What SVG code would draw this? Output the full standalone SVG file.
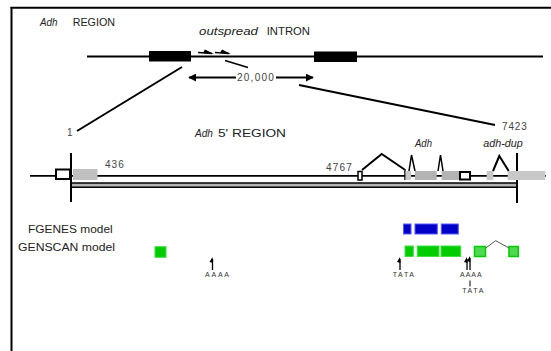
<svg xmlns="http://www.w3.org/2000/svg" width="551" height="351" viewBox="0 0 551 351">
<style>
text{font-family:"Liberation Sans",Arial,sans-serif;fill:#222}
.lbl{font-size:11px}
.num{font-size:10px;fill:#444;letter-spacing:1.2px}
.it{font-style:italic}
.ln{stroke:#000;fill:none;stroke-width:2}
.thin{stroke:#000;fill:none;stroke-width:1.5}
.gray{fill:#b4b4b4}
.lgray{fill:#c8c8c8}
.wbox{fill:#fff;stroke:#000;stroke-width:2}
.blue{fill:#0000c8;stroke:#5a5aff;stroke-width:1}
.green{fill:#00cc00;stroke:#40e040;stroke-width:1}
.lgreen{fill:#50d850;stroke:#00cc00;stroke-width:1.5}
.tiny{font-size:7px;fill:#333}
</style>
<defs>
<marker id="ah" viewBox="0 0 10 10" refX="9" refY="5" markerWidth="8" markerHeight="8" markerUnits="userSpaceOnUse" orient="auto-start-reverse">
<path d="M0,0 L10,5 L0,10 z" fill="#000"/>
</marker>
</defs>
<rect width="551" height="351" fill="#fff"/>
<g id="frame">
<line x1="11.5" y1="7" x2="11.5" y2="351" stroke="#000" stroke-width="2"/>
<line x1="10.5" y1="7.8" x2="551" y2="7.8" stroke="#000" stroke-width="2"/>
</g>
<g id="top-region">
<text x="40" y="25.5" class="lbl it" textLength="17.5" lengthAdjust="spacingAndGlyphs">Adh</text>
<text x="72.7" y="25.5" class="lbl" textLength="42.3" lengthAdjust="spacingAndGlyphs">REGION</text>
<line x1="87" y1="56.5" x2="543" y2="56.5" class="ln"/>
<rect x="149" y="51" width="42" height="10.5" fill="#000"/>
<rect x="314" y="51.5" width="43" height="10.5" fill="#000"/>
<text x="199" y="35" class="lbl it" textLength="59" lengthAdjust="spacingAndGlyphs">outspread</text>
<text x="266.7" y="35" class="lbl" textLength="43.3" lengthAdjust="spacingAndGlyphs">INTRON</text>
<path d="M198,52.5 L212,53.5" class="thin"/>
<polygon points="205,49.5 214,54 203,53" fill="#000"/>
<path d="M215,52.5 L229,53.5" class="thin"/>
<polygon points="222,49.5 231,54 220,53" fill="#000"/>
<line x1="225" y1="60.5" x2="248" y2="67.5" stroke="#000" stroke-width="1.5"/>
</g>
<g id="connectors">
<line x1="236" y1="77.5" x2="189" y2="77.5" stroke="#000" stroke-width="2" marker-end="url(#ah)"/>
<line x1="276" y1="77.5" x2="313" y2="77.5" stroke="#000" stroke-width="2" marker-end="url(#ah)"/>
<line x1="182" y1="67" x2="77" y2="131" stroke="#000" stroke-width="2"/>
<line x1="299" y1="85" x2="495" y2="125" stroke="#000" stroke-width="2"/>
</g>
<g id="scale">
<text x="237" y="81" class="num" textLength="38" lengthAdjust="spacing">20,000</text>
<text x="67" y="136" class="num">1</text>
<text x="502" y="130" class="num" textLength="26" lengthAdjust="spacing">7423</text>
</g>
<g id="five-prime-region">
<text x="195" y="137" class="lbl it" textLength="18" lengthAdjust="spacingAndGlyphs">Adh</text>
<text x="218" y="137" class="lbl" textLength="68" lengthAdjust="spacingAndGlyphs">5' REGION</text>
<line x1="30" y1="175.8" x2="546" y2="175.8" stroke="#000" stroke-width="1.8"/>
<rect x="71" y="183" width="446" height="4" fill="#b4b4b4"/>
<line x1="71" y1="183" x2="517" y2="183" stroke="#000" stroke-width="1.4"/>
<line x1="71" y1="187.3" x2="517" y2="187.3" stroke="#000" stroke-width="1.4"/>
<line x1="71" y1="153" x2="71" y2="202" stroke="#000" stroke-width="2"/>
<line x1="517" y1="153" x2="517" y2="203" stroke="#000" stroke-width="2"/>
<rect x="56" y="169.5" width="14" height="9.5" class="wbox"/>
<rect x="73" y="169" width="24.5" height="11" fill="#c0c0c0"/>
<text x="105" y="167.5" class="num" textLength="20" lengthAdjust="spacing">436</text>
<text x="326" y="170.5" class="num" textLength="27" lengthAdjust="spacing">4767</text>
<rect x="358" y="171.5" width="4" height="8.5" class="wbox" style="stroke-width:1.5"/>
<polyline points="362,170 381.7,154 404.5,169.5" class="ln"/>
<line x1="405" y1="169" x2="405" y2="180" stroke="#000" stroke-width="1.5"/>
<rect x="405.5" y="171" width="5.5" height="9" class="lgray"/>
<polyline points="409,171 411.5,155 415,171" class="thin"/>
<rect x="415" y="171" width="21.7" height="9" class="gray"/>
<polyline points="438,171 440.5,155 443,171" class="thin"/>
<rect x="441.7" y="171" width="17.6" height="9" class="gray"/>
<rect x="460" y="172" width="10" height="7.5" class="wbox"/>
<rect x="486.7" y="171" width="6.6" height="9" class="lgray"/>
<polyline points="493,171 499.3,156 508.7,171" class="ln"/>
<rect x="507.7" y="171" width="37.6" height="9" class="lgray"/>
<text x="415" y="146.5" font-size="10" class="it" textLength="17" lengthAdjust="spacingAndGlyphs">Adh</text>
<text x="483.3" y="147" font-size="10" class="it" textLength="39.4" lengthAdjust="spacingAndGlyphs">adh-dup</text>
</g>
<g id="fgenes">
<text x="28" y="233" font-size="11" textLength="84.7" lengthAdjust="spacingAndGlyphs">FGENES model</text>
<rect x="403.5" y="224" width="7.5" height="10" class="blue"/>
<rect x="415" y="224" width="22.3" height="10" class="blue"/>
<rect x="441.3" y="224" width="17" height="10" class="blue"/>
</g>
<g id="genscan">
<text x="18" y="251" font-size="11" textLength="97" lengthAdjust="spacingAndGlyphs">GENSCAN model</text>
<rect x="155" y="246.7" width="11" height="10.6" class="green"/>
<rect x="405" y="246" width="8.3" height="10.5" class="green"/>
<rect x="417.3" y="246" width="21.7" height="10.5" class="green"/>
<rect x="441" y="246" width="19.7" height="10.5" class="green"/>
<rect x="474.5" y="246.5" width="11" height="10" class="lgreen"/>
<rect x="509" y="246.5" width="9.3" height="10" class="lgreen"/>
<polyline points="485.7,248 495.7,240.7 509,248" fill="none" stroke="#555" stroke-width="1"/>
</g>
<g id="signals">
<line x1="212.5" y1="270" x2="212.5" y2="259" stroke="#000" stroke-width="1.3"/>
<polygon points="212.5,257 213,263 209.5,262" fill="#000"/>
<text x="205" y="277" class="tiny" textLength="24" lengthAdjust="spacing">AAAA</text>
<line x1="400" y1="270" x2="400" y2="259" stroke="#000" stroke-width="1.3"/>
<polygon points="400,257 400.5,263 397,262" fill="#000"/>
<text x="392.7" y="277" class="tiny" textLength="21.3" lengthAdjust="spacing">TATA</text>
<line x1="467" y1="270" x2="467" y2="259" stroke="#000" stroke-width="1.3"/>
<polygon points="467,257 467.5,263 464,262" fill="#000"/>
<line x1="470" y1="270" x2="470" y2="258" stroke="#000" stroke-width="1.3"/>
<polygon points="470,256 470.5,262 467,261" fill="#000"/>
<text x="460" y="277" class="tiny" textLength="21.7" lengthAdjust="spacing">AAAA</text>
<line x1="470" y1="280.5" x2="470" y2="286.5" stroke="#000" stroke-width="1"/>
<text x="462.3" y="292.5" class="tiny" textLength="21" lengthAdjust="spacing">TATA</text>
</g>
</svg>
